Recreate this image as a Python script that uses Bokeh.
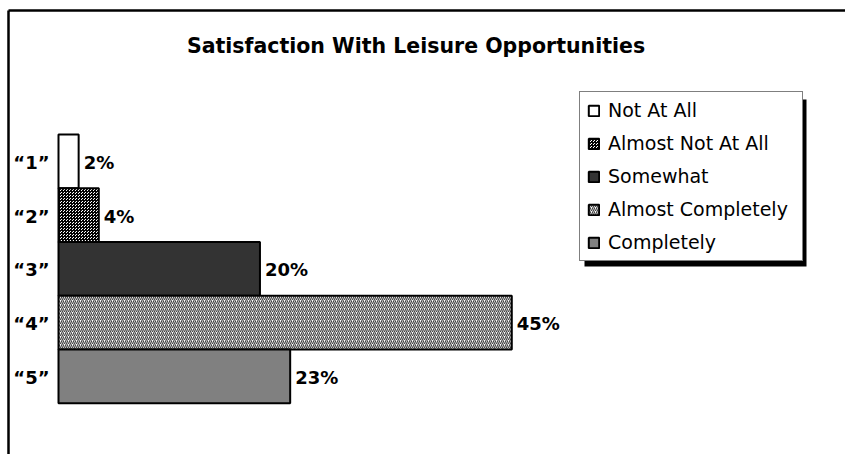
from bokeh.plotting import figure
from bokeh.models import Range1d, FixedTicker, Legend, LegendItem, ColumnDataSource, Label, BoxAnnotation
from bokeh.core.properties import value
from bokeh.embed import file_html
from bokeh.resources import INLINE

# ---- data ----
categories = ["1", "2", "3", "4", "5"]
category_labels = ["\u201c1\u201d", "\u201c2\u201d", "\u201c3\u201d", "\u201c4\u201d", "\u201c5\u201d"]
series_names = ["Not At All", "Almost Not At All", "Somewhat", "Almost Completely", "Completely"]
percent_values = [2, 4, 20, 45, 23]
value_labels = ["2%", "4%", "20%", "45%", "23%"]
title_text = "Satisfaction With Leisure Opportunities"

# ---- styles ----
styles = [
    dict(fill_color="white"),
    dict(fill_color="white", hatch_pattern="criss_cross", hatch_color="black", hatch_scale=3, hatch_weight=1),
    dict(fill_color="#333333"),
    dict(fill_color="white", hatch_pattern="right_diagonal_line", hatch_color="#444444", hatch_scale=4, hatch_weight=1.2),
    dict(fill_color="#808080"),
]

FONT = "DejaVu Sans"
W, H = 845, 454
FL, FT = 8, 10          # frame left / top in canvas px
X0, X1 = -4.964, 78.13  # x range (percent)
Y0, Y1 = 6.455, -1.807  # y range (category, inverted)

def px_x(px):
    return X0 + (px - FL) / (W - FL) * (X1 - X0)

def px_y(py):
    return Y1 + (py - FT) / (H - FT) * (Y0 - Y1)

p = figure(width=W, height=H, output_backend="svg", toolbar_location=None,
           x_range=Range1d(X0, X1), y_range=Range1d(Y0, Y1),
           x_axis_location="above", y_axis_location="left",
           min_border_left=FL, min_border_top=FT, min_border_right=0, min_border_bottom=0)
p.outline_line_color = None
p.xgrid.visible = False
p.ygrid.visible = False
p.background_fill_color = "white"
p.border_fill_color = "white"

for ax in (p.xaxis[0], p.yaxis[0]):
    ax.ticker = FixedTicker(ticks=[])
    ax.major_tick_out = 0
    ax.major_tick_in = 0
    ax.minor_tick_out = 0
    ax.minor_tick_in = 0
    ax.major_label_standoff = 0
    ax.major_label_text_font_size = "0px"
    ax.axis_line_width = 2.5
    ax.axis_line_color = "black"

y_vals = [int(c) for c in categories]

renderers = []
for i in range(len(categories)):
    src = ColumnDataSource(dict(y=[y_vals[i]], right=[percent_values[i]]))
    r = p.hbar(y="y", left=0, right="right", height=1.0, source=src,
               line_color="black", line_width=2, **styles[i])
    renderers.append(r)

lab_src = ColumnDataSource(dict(y=y_vals, x=percent_values, v=value_labels, c=category_labels, z=[0] * 5))
p.text(x="x", y="y", text="v", source=lab_src, x_offset=5, y_offset=1, text_baseline="middle",
       text_align="left", text_font=value(FONT), text_font_style="bold",
       text_font_size="18px", text_color="black")
p.text(x="z", y="y", text="c", source=lab_src, x_offset=-9, y_offset=1, text_baseline="middle",
       text_align="right", text_font=value(FONT), text_font_style="bold",
       text_font_size="18px", text_color="black")

p.add_layout(Label(x=px_x(415.5), y=px_y(45), text=title_text,
                   text_font=FONT, text_font_style="bold", text_font_size="20.5px",
                   text_color="black", text_align="center", text_baseline="alphabetic"))

# legend shadow
p.add_layout(BoxAnnotation(left=px_x(584), right=px_x(806), top=px_y(99), bottom=px_y(266),
                           fill_color="black", fill_alpha=1.0, line_color=None, level="annotation"))

items = [LegendItem(label=series_names[i], renderers=[renderers[i]]) for i in range(5)]
lg = Legend(items=items, location=(579 - FL, H - 261))
lg.label_text_font = FONT
lg.label_text_font_size = "19px"
lg.label_text_color = "black"
lg.glyph_width = 13
lg.glyph_height = 13
lg.label_height = 22
lg.label_width = 187
lg.spacing = 11
lg.padding = 7
lg.margin = 0
lg.label_standoff = 8
lg.border_line_color = "black"
lg.border_line_width = 1.5
lg.background_fill_color = "white"
lg.background_fill_alpha = 1.0
p.add_layout(lg, "center")

open("out.html", "w").write(file_html(p, INLINE))
